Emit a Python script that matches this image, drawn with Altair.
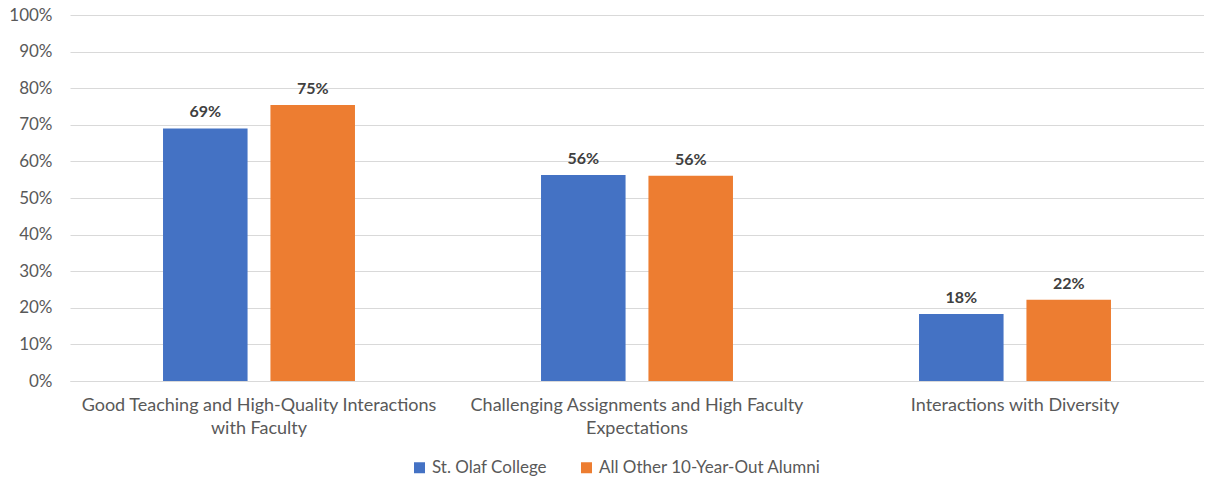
import altair as alt
import pandas as pd

categories = [
    "Good Teaching and High-Quality Interactions with Faculty",
    "Challenging Assignments and High Faculty Expectations",
    "Interactions with Diversity",
]
category_lines = [
    ["Good Teaching and High-Quality Interactions", "with Faculty"],
    ["Challenging Assignments and High Faculty", "Expectations"],
    ["Interactions with Diversity"],
]
series = ["St. Olaf College", "All Other 10-Year-Out Alumni"]
st_olaf = [69.0, 56.3, 18.3]
others = [75.4, 56.1, 22.2]
colors = ["#4472C4", "#ED7D31"]
y_ticks = list(range(0, 101, 10))

rows = []
for i, c in enumerate(categories):
    rows.append({"category": c, "series": series[0], "value": st_olaf[i]})
    rows.append({"category": c, "series": series[1], "value": others[i]})
df = pd.DataFrame(rows)

# build label expression for wrapped category labels
expr = ""
for c, lines in zip(categories, category_lines):
    arr = "[" + ",".join("'" + l + "'" for l in lines) + "]"
    expr += f"datum.value == '{c}' ? {arr} : "
expr += "datum.value"

font = "Lato"
label_color = "#595959"

x = alt.X(
    "category:N",
    sort=categories,
    title=None,
    scale=alt.Scale(paddingInner=0, paddingOuter=0),
    axis=alt.Axis(
        labelAngle=0,
        labelExpr=expr,
        labelFontSize=18,
        labelFont=font,
        labelColor=label_color,
        labelPadding=15,
        labelLineHeight=23,
        labelLimit=0,
        ticks=False,
        domainColor="#D9D9D9",
        domainWidth=1,
        labelBaseline="top",
    ),
)
xo = alt.XOffset(
    "series:N",
    sort=series,
    scale=alt.Scale(paddingInner=0.213, paddingOuter=0.866),
)
y = alt.Y(
    "value:Q",
    title=None,
    scale=alt.Scale(domain=[0, 100]),
    axis=alt.Axis(
        values=y_ticks,
        labelExpr="datum.value + '%'",
        gridColor="#D9D9D9",
        domain=False,
        ticks=False,
        labelFontSize=17,
        labelFont=font,
        labelColor=label_color,
        labelPadding=18,
    ),
)

bars = alt.Chart(df).mark_bar().encode(
    x=x,
    xOffset=xo,
    y=y,
    color=alt.Color(
        "series:N",
        sort=series,
        scale=alt.Scale(domain=series, range=colors),
        legend=alt.Legend(
            orient="none",
            legendX=341,
            legendY=444,
            direction="horizontal",
            title=None,
            symbolType="square",
            symbolSize=121,
            symbolOpacity=1,
            symbolStrokeWidth=0,
            labelFontSize=17,
            labelFont=font,
            labelColor=label_color,
            labelOffset=4,
            labelLimit=0,
            columnPadding=31,
        ),
    ),
)

labels = (
    alt.Chart(df)
    .transform_calculate(label="format(datum.value, '.0f') + '%'")
    .mark_text(
        dy=-8,
        baseline="bottom",
        fontWeight="bold",
        fontSize=16,
        font=font,
        color="#404040",
    )
    .encode(x=x, xOffset=xo, y=y, text="label:N")
)

chart = (
    alt.layer(bars, labels)
    .properties(
        width=1134,
        height=366,
        padding={"left": 62, "top": 7, "right": 0, "bottom": 98},
        autosize="none",
        background="white",
    )
    .configure_view(stroke=None)
)

chart.save("out.html", embed_options={"renderer": "svg", "actions": False})
